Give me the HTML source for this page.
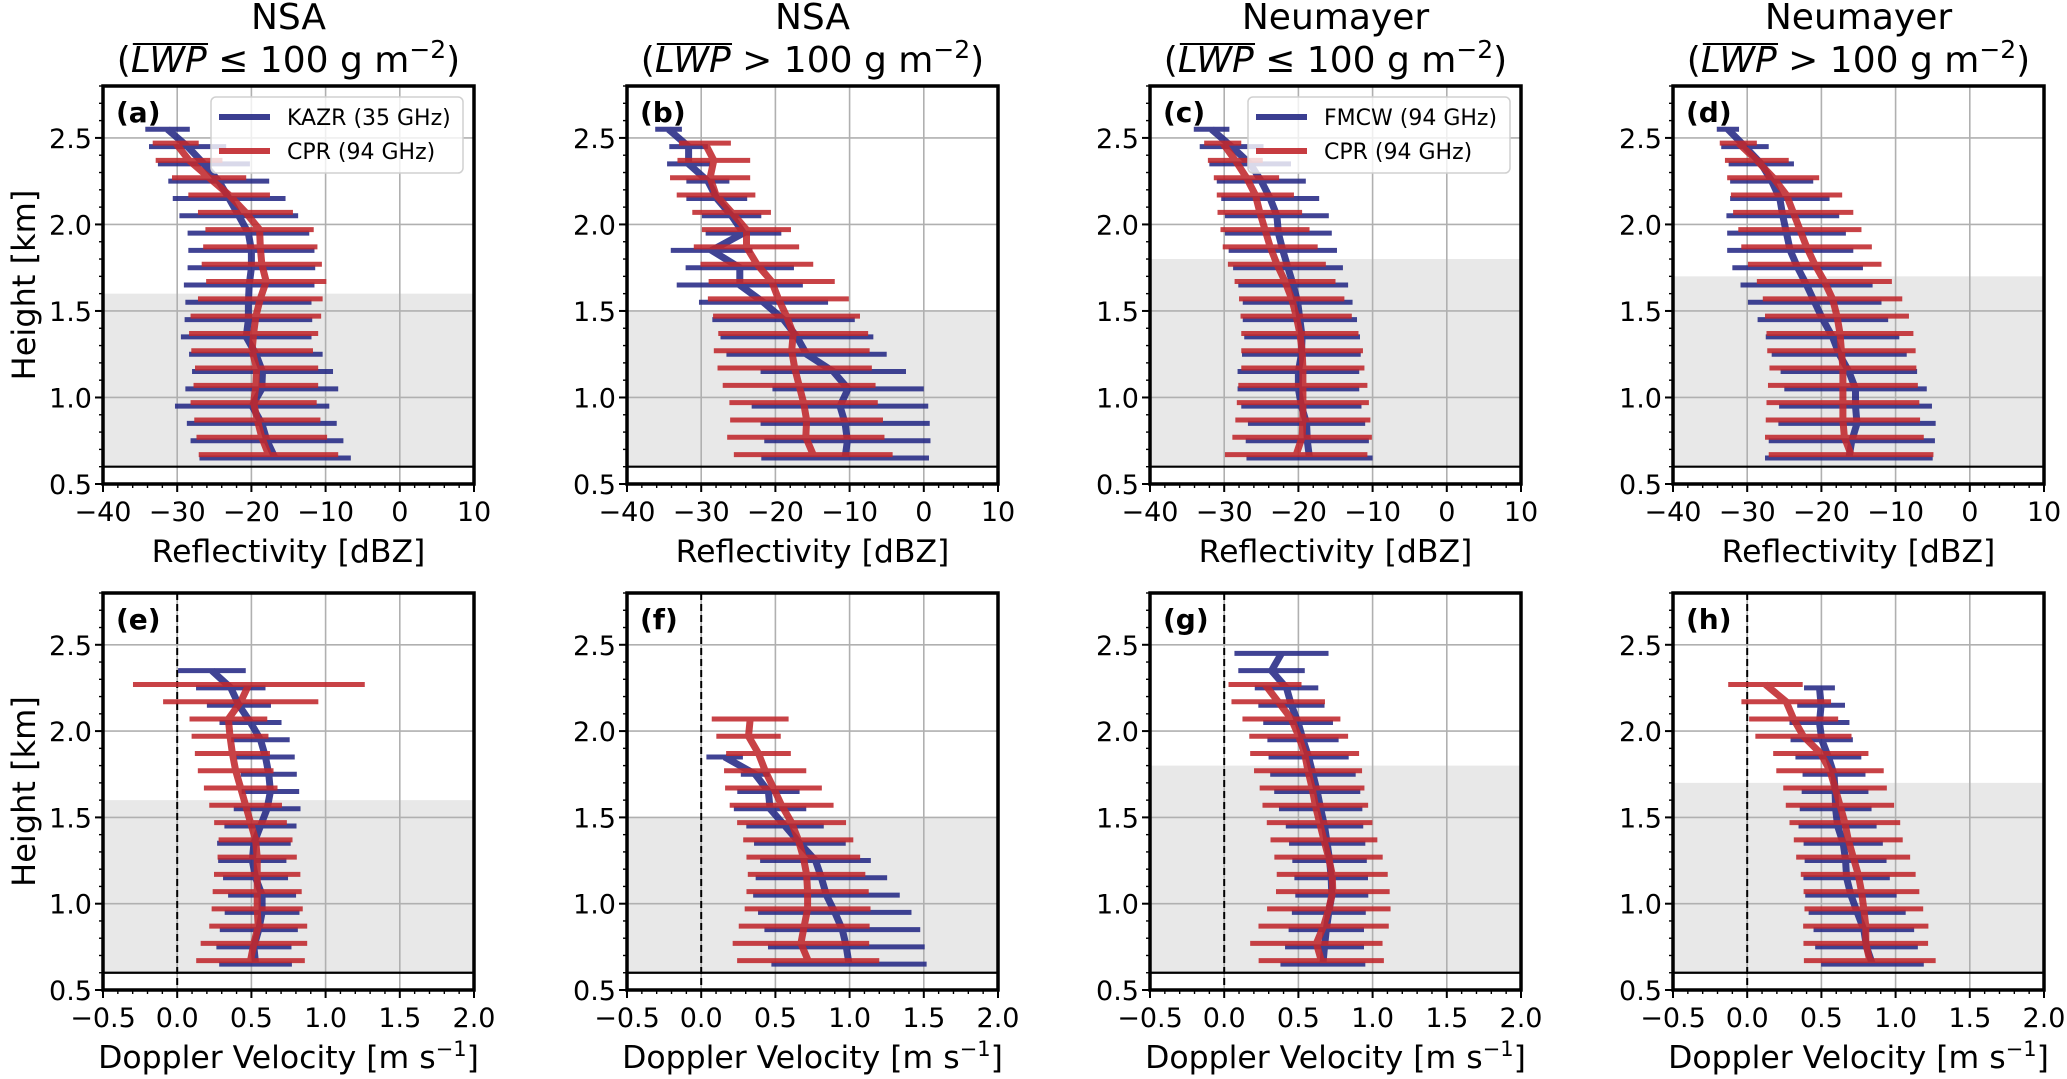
<!DOCTYPE html>
<html><head><meta charset="utf-8"><style>
html,body{margin:0;padding:0;background:#fff;}
svg{display:block;font-family:"DejaVu Sans","Liberation Sans",sans-serif;}
</style></head><body>
<svg id="fig" xmlns="http://www.w3.org/2000/svg" width="2067" height="1079" viewBox="0 0 2067 1079"></svg>
<script>
// ---------- DATA ----------
const refTicks = [-40,-30,-20,-10,0,10];
const refTickLabels = ["\u221240","\u221230","\u221220","\u221210","0","10"];
const velTicks = [-0.5,0,0.5,1.0,1.5,2.0];
const velTickLabels = ["\u22120.5","0.0","0.5","1.0","1.5","2.0"];
const yTicks = [0.5,1.0,1.5,2.0,2.5];
const yTickLabels = ["0.5","1.0","1.5","2.0","2.5"];
const siteTitles = ["NSA","NSA","Neumayer","Neumayer","NSA","NSA","Neumayer","Neumayer"];
const panelLetters = ["(a)","(b)","(c)","(d)","(e)","(f)","(g)","(h)"];
const shadeTops = [1.6,1.5,1.8,1.7,1.6,1.5,1.8,1.7];

// (a)
const aBlueH = [2.55,2.45,2.35,2.25,2.15,2.05,1.95,1.85,1.75,1.65,1.55,1.45,1.35,1.25,1.15,1.05,0.95,0.85,0.75,0.65];
const aBlueM = [-31.3,-28.6,-26.4,-24.4,-23,-21.7,-20.4,-20,-20,-20.3,-20.4,-20.4,-20.7,-19.4,-18.5,-18.6,-19.9,-18.6,-17.9,-16.8];
const aBlueS = [3,5.2,6.2,6.8,7.6,8,8.2,8.5,8.6,8.8,8.5,8.6,8.8,9,9.5,10.3,10.4,10.1,10.3,10.2];
const aRedH = [2.47,2.37,2.27,2.17,2.07,1.97,1.87,1.77,1.67,1.57,1.47,1.37,1.27,1.17,1.07,0.97,0.87,0.77,0.67];
const aRedM = [-30.2,-28.4,-25.7,-23,-20.8,-18.9,-18.8,-18.6,-18,-18.8,-19.4,-19.7,-19.9,-19.3,-19.4,-19.7,-19.2,-18.6,-17.7];
const aRedS = [3.1,4.5,5,5.5,6.4,7.3,7.7,8.1,8.1,8.4,8.8,8.7,8.2,8.3,8.4,8.5,8.5,8.8,9.4];
// (b)
const bBlueH = [2.55,2.45,2.35,2.25,2.15,2.05,1.95,1.85,1.75,1.65,1.55,1.45,1.35,1.25,1.15,1.05,0.95,0.85,0.75,0.65];
const bBlueM = [-34.4,-31.7,-31.7,-29.1,-27.9,-25.9,-24.3,-28.6,-24.8,-24.8,-21.6,-18.9,-17.1,-15.8,-12.2,-10.2,-11.3,-10.6,-10.3,-10.6];
const bBlueS = [1.8,2.6,2.9,2.9,4.1,4.0,5.1,5.5,7.3,8.5,8.7,9.6,10.3,10.8,9.8,10.2,11.9,11.4,11.2,11.3];
const bRedH = [2.47,2.37,2.27,2.17,2.07,1.97,1.87,1.77,1.67,1.57,1.47,1.37,1.27,1.17,1.07,0.97,0.87,0.77,0.67];
const bRedM = [-29.5,-28.3,-28.8,-28,-25.9,-23.9,-23.9,-22.5,-20.5,-19.6,-18.5,-17.6,-17.8,-17.4,-16.8,-16.2,-15.8,-15.9,-14.9];
const bRedS = [3.5,4.9,5.4,5.3,5.3,6.0,7.1,7.6,8.5,9.5,9.9,10.1,10.5,10.4,10.3,10.0,10.3,10.6,10.7];
// (c)
const cBlueH = [2.55,2.45,2.35,2.25,2.15,2.05,1.95,1.85,1.75,1.65,1.55,1.45,1.35,1.25,1.15,1.05,0.95,0.85,0.75,0.65];
const cBlueM = [-31.7,-29,-26.5,-25,-23.8,-22.9,-22.7,-22.1,-21.4,-20.7,-20.1,-19.8,-19.5,-19.6,-20,-20,-19.6,-18.9,-18.8,-18.5];
const cBlueS = [2.4,4.3,5.5,6.0,6.6,7.0,7.2,7.3,7.4,7.4,7.4,7.7,7.8,8.0,8.2,8.2,8.1,7.9,8.3,8.5];
const cRedH = [2.47,2.37,2.27,2.17,2.07,1.97,1.87,1.77,1.67,1.57,1.47,1.37,1.27,1.17,1.07,0.97,0.87,0.77,0.67];
const cRedM = [-30.2,-28.5,-27,-25.8,-25.2,-24.5,-23.8,-22.9,-21.8,-20.9,-20.3,-19.8,-19.5,-19.4,-19.4,-19.4,-19.4,-19.5,-20.3];
const cRedS = [2.5,3.7,4.4,5.2,5.7,6,6.4,6.6,6.8,7.1,7.5,7.9,8.2,8.3,8.7,8.9,9.1,9.4,9.6];
// (d)
const dBlueH = [2.55,2.45,2.35,2.25,2.15,2.05,1.95,1.85,1.75,1.65,1.55,1.45,1.35,1.25,1.15,1.05,0.95,0.85,0.75,0.65];
const dBlueM = [-32.6,-30.3,-28.1,-26.7,-25.6,-25.2,-24.7,-24.2,-23.2,-22,-20.9,-19.8,-18.5,-17.6,-16.3,-15.4,-15.4,-15.2,-15.9,-16.3];
const dBlueS = [1.5,3.2,4.4,5.6,6.7,7.6,8.0,8.5,8.8,8.9,9.0,8.8,9.0,9.1,9.2,9.6,10.3,10.6,11.2,11.3];
const dRedH = [2.47,2.37,2.27,2.17,2.07,1.97,1.87,1.77,1.67,1.57,1.47,1.37,1.27,1.17,1.07,0.97,0.87,0.77,0.67];
const dRedM = [-31.2,-28.7,-26.5,-24.7,-23.8,-22.9,-22,-20.9,-19.6,-18.5,-17.9,-17.5,-17.3,-17.1,-17.1,-17.1,-17.1,-16.9,-16];
const dRedS = [2.5,4.3,6.2,7.5,8.1,8.3,8.8,9.0,9.1,9.4,9.7,9.9,10.0,9.9,10.1,10.3,10.4,10.7,11.1];
// (e)
const eBlueH = [2.35,2.25,2.15,2.05,1.95,1.85,1.75,1.65,1.55,1.45,1.35,1.25,1.15,1.05,0.95,0.85,0.75,0.65];
const eBlueM = [0.234,0.361,0.416,0.494,0.561,0.595,0.617,0.628,0.606,0.561,0.517,0.506,0.528,0.572,0.572,0.550,0.517,0.528];
const eBlueS = [0.228,0.234,0.216,0.209,0.197,0.197,0.189,0.194,0.225,0.243,0.248,0.230,0.219,0.229,0.252,0.263,0.253,0.245];
const eRedH = [2.27,2.17,2.07,1.97,1.87,1.77,1.67,1.57,1.47,1.37,1.27,1.17,1.07,0.97,0.87,0.77,0.67];
const eRedM = [0.483,0.428,0.345,0.356,0.372,0.394,0.428,0.461,0.494,0.528,0.539,0.539,0.539,0.539,0.546,0.517,0.494];
const eRedS = [0.781,0.523,0.262,0.259,0.253,0.255,0.248,0.245,0.245,0.249,0.267,0.291,0.300,0.307,0.330,0.359,0.366];
// (f)
const fBlueH = [1.85,1.75,1.65,1.55,1.45,1.35,1.25,1.15,1.05,0.95,0.85,0.75,0.65];
const fBlueM = [0.158,0.364,0.453,0.464,0.565,0.665,0.770,0.810,0.844,0.900,0.951,0.978,0.996];
const fBlueS = [0.123,0.097,0.210,0.244,0.261,0.309,0.373,0.443,0.494,0.517,0.525,0.528,0.523];
const fRedH = [2.07,1.97,1.87,1.77,1.67,1.57,1.47,1.37,1.27,1.17,1.07,0.97,0.87,0.77,0.67];
const fRedM = [0.330,0.319,0.386,0.431,0.487,0.542,0.609,0.654,0.688,0.710,0.717,0.717,0.694,0.672,0.721];
const fRedS = [0.259,0.217,0.218,0.277,0.326,0.350,0.367,0.371,0.383,0.396,0.412,0.424,0.441,0.460,0.479];
// (g)
const gBlueH = [2.45,2.35,2.25,2.15,2.05,1.95,1.85,1.75,1.65,1.55,1.45,1.35,1.25,1.15,1.05,0.95,0.85,0.75,0.65];
const gBlueM = [0.386,0.319,0.420,0.453,0.498,0.531,0.569,0.598,0.627,0.650,0.676,0.694,0.710,0.721,0.725,0.705,0.688,0.676,0.665];
const gBlueS = [0.317,0.224,0.214,0.223,0.235,0.240,0.270,0.288,0.290,0.281,0.261,0.257,0.251,0.248,0.246,0.249,0.254,0.266,0.286];
const gRedH = [2.27,2.17,2.07,1.97,1.87,1.77,1.67,1.57,1.47,1.37,1.27,1.17,1.07,0.97,0.87,0.77,0.67];
const gRedM = [0.275,0.364,0.453,0.502,0.542,0.565,0.592,0.614,0.643,0.672,0.703,0.728,0.732,0.705,0.670,0.621,0.654];
const gRedS = [0.246,0.315,0.330,0.333,0.367,0.364,0.353,0.356,0.356,0.360,0.365,0.374,0.383,0.416,0.439,0.446,0.422];
// (h)
const hBlueH = [2.25,2.15,2.05,1.95,1.85,1.75,1.65,1.55,1.45,1.35,1.25,1.15,1.05,0.95,0.85,0.75,0.65];
const hBlueM = [0.487,0.498,0.487,0.502,0.547,0.585,0.592,0.596,0.609,0.647,0.663,0.670,0.699,0.741,0.786,0.804,0.844];
const hBlueS = [0.104,0.161,0.202,0.210,0.222,0.212,0.225,0.242,0.263,0.267,0.276,0.291,0.308,0.327,0.339,0.346,0.346];
const hRedH = [2.27,2.17,2.07,1.97,1.87,1.77,1.67,1.57,1.47,1.37,1.27,1.17,1.07,0.97,0.87,0.77,0.67];
const hRedM = [0.123,0.263,0.313,0.379,0.496,0.558,0.592,0.625,0.658,0.681,0.714,0.748,0.770,0.786,0.799,0.799,0.826];
const hRedS = [0.251,0.302,0.300,0.324,0.321,0.362,0.349,0.365,0.373,0.367,0.384,0.387,0.390,0.400,0.422,0.420,0.444];

// ---------- DRAWING ----------
const NS = "http://www.w3.org/2000/svg";
const svg = document.getElementById("fig");
function el(tag, attrs, parent){
  const e = document.createElementNS(NS, tag);
  for (const k in attrs) e.setAttribute(k, attrs[k]);
  (parent||svg).appendChild(e);
  return e;
}
const BLUE = "#262a86", RED = "#c1282d";
const lefts = [103,627,1150,1673];
const PW = 371;
const rows = [{top:86,bot:484},{top:593,bot:990}];

function drawPanel(i, blueH, blueM, blueS, redH, redM, redS, legendLabel){
  const row = i<4 ? 0 : 1;
  const L = lefts[i%4], T = rows[row].top, B = rows[row].bot, R = L+PW;
  const isRef = row===0;
  const xmin = isRef ? -40 : -0.5, xmax = isRef ? 10 : 2.0;
  const xs = v => L + (v - xmin)/(xmax - xmin)*PW;
  const ys = v => B - (v - 0.5)/(2.8 - 0.5)*(B - T);
  const g = el("g", {});
  
  
  const sh = el("rect", {x:L, y:ys(shadeTops[i]), width:PW, height:ys(0.6)-ys(shadeTops[i]), fill:"#e8e8e8"}, g);
  
  
  const ticksX = isRef ? refTicks : velTicks;
  const labsX = isRef ? refTickLabels : velTickLabels;
  ticksX.forEach(t => {
    const gl = el("line", {x1:xs(t), x2:xs(t), y1:T, y2:B, stroke:"#b0b0b0", "stroke-width":1.6}, g);
    
    
  });
  yTicks.forEach(t => {
    const gl = el("line", {x1:L, x2:R, y1:ys(t), y2:ys(t), stroke:"#b0b0b0", "stroke-width":1.6}, g);
    
    
  });
  const bl = el("line", {x1:L, x2:R, y1:ys(0.6), y2:ys(0.6), stroke:"#000", "stroke-width":2.2}, g);
  
  
  if (!isRef) {
    const zl = el("line", {x1:xs(0), x2:xs(0), y1:T, y2:B, stroke:"#000", "stroke-width":2, "stroke-dasharray":"7,4"}, g);
    
    
  }
  function series(H, M, S, color, name){
    const sg = el("g", {opacity:0.88}, g);
    
    
    H.forEach((h, k) => {
      const b = el("line", {x1:xs(M[k]-S[k]), x2:xs(M[k]+S[k]), y1:ys(h), y2:ys(h), stroke:color, "stroke-width":5}, sg);
      
      
    });
    const pts = H.map((h,k) => xs(M[k]).toFixed(1)+","+ys(h).toFixed(1)).join(" ");
    const pl = el("polyline", {points:pts, fill:"none", stroke:color, "stroke-width":7, "stroke-linejoin":"round"}, sg);
    
    
  }
  series(blueH, blueM, blueS, BLUE, "ground-radar");
  series(redH, redM, redS, RED, "cpr");
  const fr = el("rect", {x:L, y:T, width:PW, height:B-T, fill:"none", stroke:"#000", "stroke-width":3.5}, g);
  
  
  const minorStepX = isRef ? 2 : 0.1;
  for (let v = xmin; v <= xmax + 1e-9; v += minorStepX) {
    el("line", {x1:xs(v), x2:xs(v), y1:B, y2:B+4, stroke:"#000", "stroke-width":1.4}, g);
  }
  ticksX.forEach((t, k) => {
    el("line", {x1:xs(t), x2:xs(t), y1:B, y2:B+8, stroke:"#000", "stroke-width":2}, g);
    const tl = el("text", {x:xs(t), y:B+37, "font-size":27, "text-anchor":"middle", fill:"#000"}, g);
    
    
    tl.textContent = labsX[k];
  });
  for (let v = 0.5; v <= 2.8 + 1e-9; v += 0.1) {
    el("line", {x1:L-4, x2:L, y1:ys(v), y2:ys(v), stroke:"#000", "stroke-width":1.4}, g);
  }
  yTicks.forEach((t, k) => {
    el("line", {x1:L-8, x2:L, y1:ys(t), y2:ys(t), stroke:"#000", "stroke-width":2}, g);
    const tl = el("text", {x:L-11, y:ys(t)+10, "font-size":27, "text-anchor":"end", fill:"#000"}, g);
    
    
    tl.textContent = yTickLabels[k];
  });
  const xl = el("text", {x:L+PW/2, y:B+78, "font-size":31.5, "text-anchor":"middle", fill:"#000"}, g);
  
  
  if (isRef) xl.textContent = "Reflectivity [dBZ]";
  else { xl.innerHTML = 'Doppler Velocity [m s<tspan dy="-12" font-size="21">\u22121</tspan><tspan dy="12">]</tspan>'; }
  if (i%4===0) {
    const cy = (T+B)/2;
    const yl = el("text", {x:24, y:cy, "font-size":32, "text-anchor":"middle", fill:"#000", transform:"rotate(-90 24 "+cy+")"}, g);
    
    
    yl.setAttribute("dy", "11");
    yl.textContent = "Height [km]";
  }
  const pl = el("text", {x:L+13, y:T+36, "font-size":28, "font-weight":"bold", fill:"#000"}, g);
  
  
  pl.textContent = panelLetters[i];
  if (isRef) {
    const t1 = el("text", {x:L+PW/2, y:29, "font-size":36, "text-anchor":"middle", fill:"#000"}, g);
    
    
    t1.textContent = siteTitles[i];
    const op = (i%2===0) ? "\u2264" : ">";
    const t2 = el("text", {x:L+PW/2, y:72, "font-size":36, "text-anchor":"middle", fill:"#000"}, g);
    
    
    t2.innerHTML = '(<tspan class="lwp" font-style="italic">LWP</tspan> ' + op + ' 100 g m<tspan dy="-14" font-size="25">\u22122</tspan><tspan dy="14">)</tspan>';
    const lwp = t2.querySelector(".lwp");
    let bx = lwp.getBBox();
    const ol = el("line", {x1:bx.x+2, x2:bx.x+bx.width+1, y1:44, y2:44, stroke:"#000", "stroke-width":2}, g);
    
    
  }
  if (legendLabel) {
    const lw = legendLabel[0].startsWith("KAZR") ? 252 : 262;
    const lx = R - 11 - lw, ly = T + 11;
    const lg = el("g", {}, g);
    
    
    el("rect", {x:lx, y:ly, width:lw, height:76, rx:5, fill:"#fff", "fill-opacity":0.8, stroke:"#d0d0d0", "stroke-width":1.5}, lg);
    [[BLUE, legendLabel[0]], [RED, legendLabel[1]]].forEach((e, k) => {
      const yy = ly + 20 + k*34;
      const h = el("line", {x1:lx+8, x2:lx+59, y1:yy, y2:yy, stroke:e[0], "stroke-width":6, opacity:0.9}, lg);
      
      
      const tx = el("text", {x:lx+76, y:yy+8, "font-size":22, fill:"#000"}, lg);
      
      
      tx.textContent = e[1];
    });
  }
}

drawPanel(0, aBlueH, aBlueM, aBlueS, aRedH, aRedM, aRedS, ["KAZR (35 GHz)","CPR (94 GHz)"]);
drawPanel(1, bBlueH, bBlueM, bBlueS, bRedH, bRedM, bRedS, null);
drawPanel(2, cBlueH, cBlueM, cBlueS, cRedH, cRedM, cRedS, ["FMCW (94 GHz)","CPR (94 GHz)"]);
drawPanel(3, dBlueH, dBlueM, dBlueS, dRedH, dRedM, dRedS, null);
drawPanel(4, eBlueH, eBlueM, eBlueS, eRedH, eRedM, eRedS, null);
drawPanel(5, fBlueH, fBlueM, fBlueS, fRedH, fRedM, fRedS, null);
drawPanel(6, gBlueH, gBlueM, gBlueS, gRedH, gRedM, gRedS, null);
drawPanel(7, hBlueH, hBlueM, hBlueS, hRedH, hRedM, hRedS, null);
</script>
</body></html>
